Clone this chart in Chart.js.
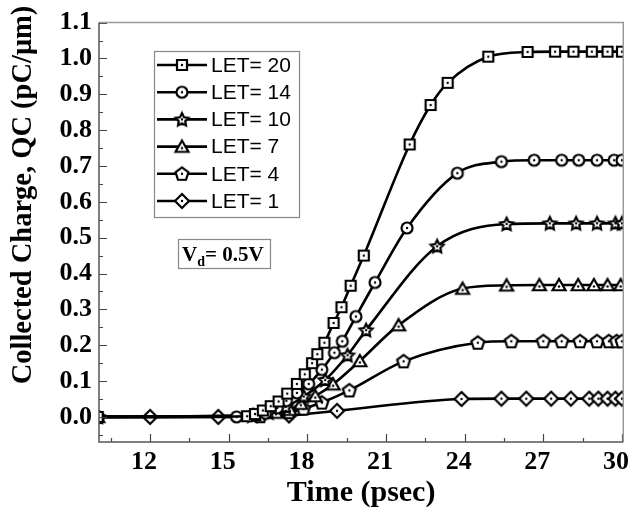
<!DOCTYPE html>
<html><head><meta charset="utf-8">
<script src="https://cdn.jsdelivr.net/npm/chart.js@4.4.1/dist/chart.umd.min.js"></script>
<style>html,body{margin:0;padding:0;background:#fff;}#wrap{width:640px;height:521px;position:relative;}</style>
</head><body><div id="wrap"><canvas id="c" width="640" height="521"></canvas></div>
<script>
// ---- data ----
const seriesLabels = ['LET= 20', 'LET= 14', 'LET= 10', 'LET= 7', 'LET= 4', 'LET= 1'];
const xTicks = [12, 15, 18, 21, 24, 27, 30];
const yTicks = [0.0, 0.1, 0.2, 0.3, 0.4, 0.5, 0.6, 0.7, 0.8, 0.9, 1.0, 1.1];
const yTitle = 'Collected Charge, QC (pC/\u03bcm)';
const xTitle = 'Time (psec)';

const t20 = [10.0, 15.7, 16.0, 16.3, 16.6, 16.9, 17.23, 17.6, 17.9, 18.18, 18.38, 18.65, 19.0, 19.3, 19.65, 20.15, 21.9, 22.7, 23.35, 24.9, 26.4, 27.45, 28.15, 28.85, 29.45, 30.0];
const q20 = [0, 0.002, 0.008, 0.018, 0.030, 0.043, 0.065, 0.092, 0.119, 0.150, 0.175, 0.207, 0.262, 0.306, 0.366, 0.450, 0.760, 0.870, 0.932, 1.005, 1.018, 1.019, 1.019, 1.019, 1.019, 1.019];

const t14 = [10.0, 15.3, 16.4, 16.85, 17.2, 17.6, 18.05, 18.55, 19.03, 19.33, 19.85, 20.58, 21.8, 23.72, 25.4, 26.65, 27.7, 28.35, 29.05, 29.7, 30.0];
const q14 = [0, 0.0, 0.010, 0.025, 0.045, 0.067, 0.092, 0.132, 0.179, 0.211, 0.280, 0.375, 0.527, 0.680, 0.712, 0.716, 0.716, 0.716, 0.716, 0.716, 0.716];

const t10 = [10.0, 15.9, 16.52, 17.17, 17.86, 18.68, 19.53, 20.24, 22.95, 25.6, 27.25, 28.25, 29.05, 29.75, 30.0];
const q10 = [0, 0.003, 0.012, 0.028, 0.057, 0.103, 0.172, 0.242, 0.476, 0.538, 0.540, 0.540, 0.540, 0.540, 0.540];

const t7 = [10.0, 15.95, 16.8, 17.33, 17.75, 18.3, 18.98, 20.0, 21.48, 23.92, 25.6, 26.85, 27.6, 28.33, 28.93, 29.45, 29.95];
const q7 = [0, 0.005, 0.012, 0.020, 0.037, 0.058, 0.091, 0.156, 0.256, 0.358, 0.367, 0.368, 0.368, 0.368, 0.368, 0.368, 0.368];

const t4 = [10.0, 16.2, 17.3, 17.85, 18.55, 19.6, 21.67, 24.5, 25.78, 27.0, 27.7, 28.4, 29.05, 29.5, 29.8, 30.0];
const q4 = [0, 0.002, 0.013, 0.023, 0.040, 0.074, 0.155, 0.207, 0.211, 0.211, 0.211, 0.211, 0.211, 0.211, 0.211, 0.211];

const t1 = [10.0, 12.0, 14.6, 17.3, 19.13, 23.88, 25.4, 26.35, 27.3, 28.05, 28.75, 29.1, 29.45, 29.75, 30.0];
const q1 = [0, 0, 0, 0.004, 0.017, 0.050, 0.051, 0.051, 0.051, 0.051, 0.051, 0.051, 0.051, 0.051, 0.051];

const seriesTimes = [t20, t14, t10, t7, t4, t1];
const seriesValues = [q20, q14, q10, q7, q4, q1];
const markerShapes = ['square', 'circle', 'star', 'triangle', 'pentagon', 'diamond'];

// ---- marker images ----
function poly(g, cx, cy, r, n, rot, inner) {
  const pts = inner ? n * 2 : n;
  for (let i = 0; i < pts; i++) {
    const a = rot + i * Math.PI * 2 / pts;
    const rr = inner ? (i % 2 === 0 ? r : r * inner) : r;
    const x = cx + rr * Math.cos(a), y = cy + rr * Math.sin(a);
    if (i === 0) g.moveTo(x, y); else g.lineTo(x, y);
  }
  g.closePath();
}
function makeMarker(shape) {
  const s = 18;
  const c = document.createElement('canvas');
  c.width = s; c.height = s;
  const g = c.getContext('2d');
  const cx = s / 2, cy = s / 2;
  g.beginPath();
  if (shape === 'square') g.rect(cx - 5, cy - 5, 10, 10);
  else if (shape === 'circle') g.arc(cx, cy, 5.5, 0, Math.PI * 2);
  else if (shape === 'star') poly(g, cx, cy + 0.5, 6.8, 5, -Math.PI / 2, 0.5);
  else if (shape === 'triangle') poly(g, cx, cy + 1.5, 7.5, 3, -Math.PI / 2);
  else if (shape === 'pentagon') poly(g, cx, cy + 0.5, 6.8, 5, -Math.PI / 2);
  else if (shape === 'diamond') poly(g, cx, cy, 7, 4, -Math.PI / 2);
  g.fillStyle = '#fff'; g.fill();
  g.lineWidth = 2.2; g.strokeStyle = '#000'; g.lineJoin = 'miter'; g.stroke();
  g.beginPath(); g.arc(cx, cy + (shape === 'triangle' ? 1.5 : 0), 1.2, 0, Math.PI * 2); g.fillStyle = '#000'; g.fill();
  return c;
}
const markers = markerShapes.map(makeMarker);

const datasets = seriesLabels.map((lab, i) => ({
  label: lab,
  data: seriesTimes[i].map((t, k) => ({ x: t, y: seriesValues[i][k] })),
  borderColor: '#000',
  borderWidth: 2.6,
  pointStyle: markers[i],
  pointRadius: 6,
  cubicInterpolationMode: 'monotone',
  fill: false
}));

const AXIS_FONT = 'Liberation Serif';

const decorPlugin = {
  id: 'decor',
  afterDatasetsDraw(chart) {
    const { ctx, chartArea: a, scales: { x, y } } = chart;
    ctx.save();
    // ticks inward
    ctx.strokeStyle = '#444'; ctx.lineWidth = 1.2;
    ctx.beginPath();
    xTicks.forEach(v => { const px = Math.round(x.getPixelForValue(v)) + 0.5; ctx.moveTo(px, a.bottom); ctx.lineTo(px, a.bottom - 8); });
    xTicks.forEach(v => { const px = Math.round(x.getPixelForValue(v - 1.5)) + 0.5; ctx.moveTo(px, a.bottom); ctx.lineTo(px, a.bottom - 4); });
    yTicks.forEach(v => { const py = Math.round(y.getPixelForValue(v)) + 0.5; ctx.moveTo(a.left, py); ctx.lineTo(a.left + 8, py); });
    yTicks.forEach(v => { const py = Math.round(y.getPixelForValue(v - 0.05)) + 0.5; ctx.moveTo(a.left, py); ctx.lineTo(a.left + 4, py); });
    ctx.stroke();
    // frame
    ctx.lineWidth = 1.5;
    ctx.strokeStyle = '#999';
    ctx.beginPath();
    ctx.moveTo(a.left, a.top); ctx.lineTo(a.right, a.top); ctx.lineTo(a.right, a.bottom);
    ctx.stroke();
    ctx.strokeStyle = '#555';
    ctx.beginPath();
    ctx.moveTo(a.left, a.top); ctx.lineTo(a.left, a.bottom); ctx.lineTo(a.right, a.bottom);
    ctx.stroke();

    // y axis title (placed like the reference, above centre)
    ctx.save();
    ctx.translate(24, 195);
    ctx.rotate(-Math.PI / 2);
    ctx.font = 'bold 28.5px "Liberation Serif", serif';
    ctx.fillStyle = '#000'; ctx.textAlign = 'center'; ctx.textBaseline = 'middle';
    ctx.fillText(yTitle, 0, 0);
    ctx.restore();

    // legend
    const lx = 154, ly = 51, lw = 145, lh = 166;
    ctx.fillStyle = '#fff'; ctx.fillRect(lx, ly, lw, lh);
    ctx.strokeStyle = '#888'; ctx.lineWidth = 1.2; ctx.strokeRect(lx + 0.5, ly + 0.5, lw, lh);
    seriesLabels.forEach((lab, i) => {
      const yy = 65 + i * 27.2;
      ctx.strokeStyle = '#000'; ctx.lineWidth = 2.6;
      ctx.beginPath(); ctx.moveTo(157, yy); ctx.lineTo(207, yy); ctx.stroke();
      const m = markers[i];
      ctx.drawImage(m, 182 - m.width / 2, yy - m.height / 2);
      ctx.fillStyle = '#000';
      ctx.font = '21px "Liberation Sans", Arial, sans-serif';
      ctx.textBaseline = 'middle'; ctx.textAlign = 'left';
      ctx.fillText(lab, 211, yy + 1);
    });

    // Vd box
    ctx.strokeStyle = '#888'; ctx.lineWidth = 1.2;
    ctx.strokeRect(178.5, 239.5, 92, 29);
    ctx.fillStyle = '#000';
    ctx.textBaseline = 'alphabetic';
    ctx.font = 'bold 21px "Liberation Serif", serif';
    ctx.fillText('V', 182, 261);
    const vw = ctx.measureText('V').width;
    ctx.font = 'bold 14px "Liberation Serif", serif';
    ctx.fillText('d', 182 + vw, 266);
    const dw = ctx.measureText('d').width;
    ctx.font = 'bold 21px "Liberation Serif", serif';
    ctx.fillText('= 0.5V', 182 + vw + dw, 261);
    ctx.restore();
  }
};

new Chart(document.getElementById('c'), {
  type: 'line',
  data: { datasets },
  options: {
    responsive: false,
    animation: false,
    devicePixelRatio: 1,
    layout: { padding: { top: 17, right: 15, left: 0, bottom: 0 } },
    plugins: { legend: { display: false }, tooltip: { enabled: false } },
    scales: {
      x: {
        type: 'linear', min: 10.05, max: 30.05,
        grid: { display: false, drawTicks: false },
        border: { display: false },
        afterBuildTicks: s => { s.ticks = xTicks.map(v => ({ value: v })); },
        afterFit: s => { s.height = 79; },
        ticks: { color: '#000', font: { family: AXIS_FONT, size: 26, weight: 'bold' }, padding: 5, labelOffset: -6, maxRotation: 0, autoSkip: false, callback: v => String(v) },
        title: { display: true, text: xTitle, color: '#000', font: { family: AXIS_FONT, size: 30, weight: 'bold' }, padding: { top: 0, bottom: 10 } }
      },
      y: {
        type: 'linear', min: -0.07, max: 1.1,
        grid: { display: false, drawTicks: false },
        border: { display: false },
        afterBuildTicks: s => { s.ticks = yTicks.map(v => ({ value: v })); },
        afterFit: s => { s.width = 99; },
        ticks: { color: '#000', font: { family: AXIS_FONT, size: 26, weight: 'bold' }, padding: 7, autoSkip: false, callback: v => Number(v).toFixed(1) },
        title: { display: false }
      }
    }
  },
  plugins: [decorPlugin]
});
</script></body></html>
